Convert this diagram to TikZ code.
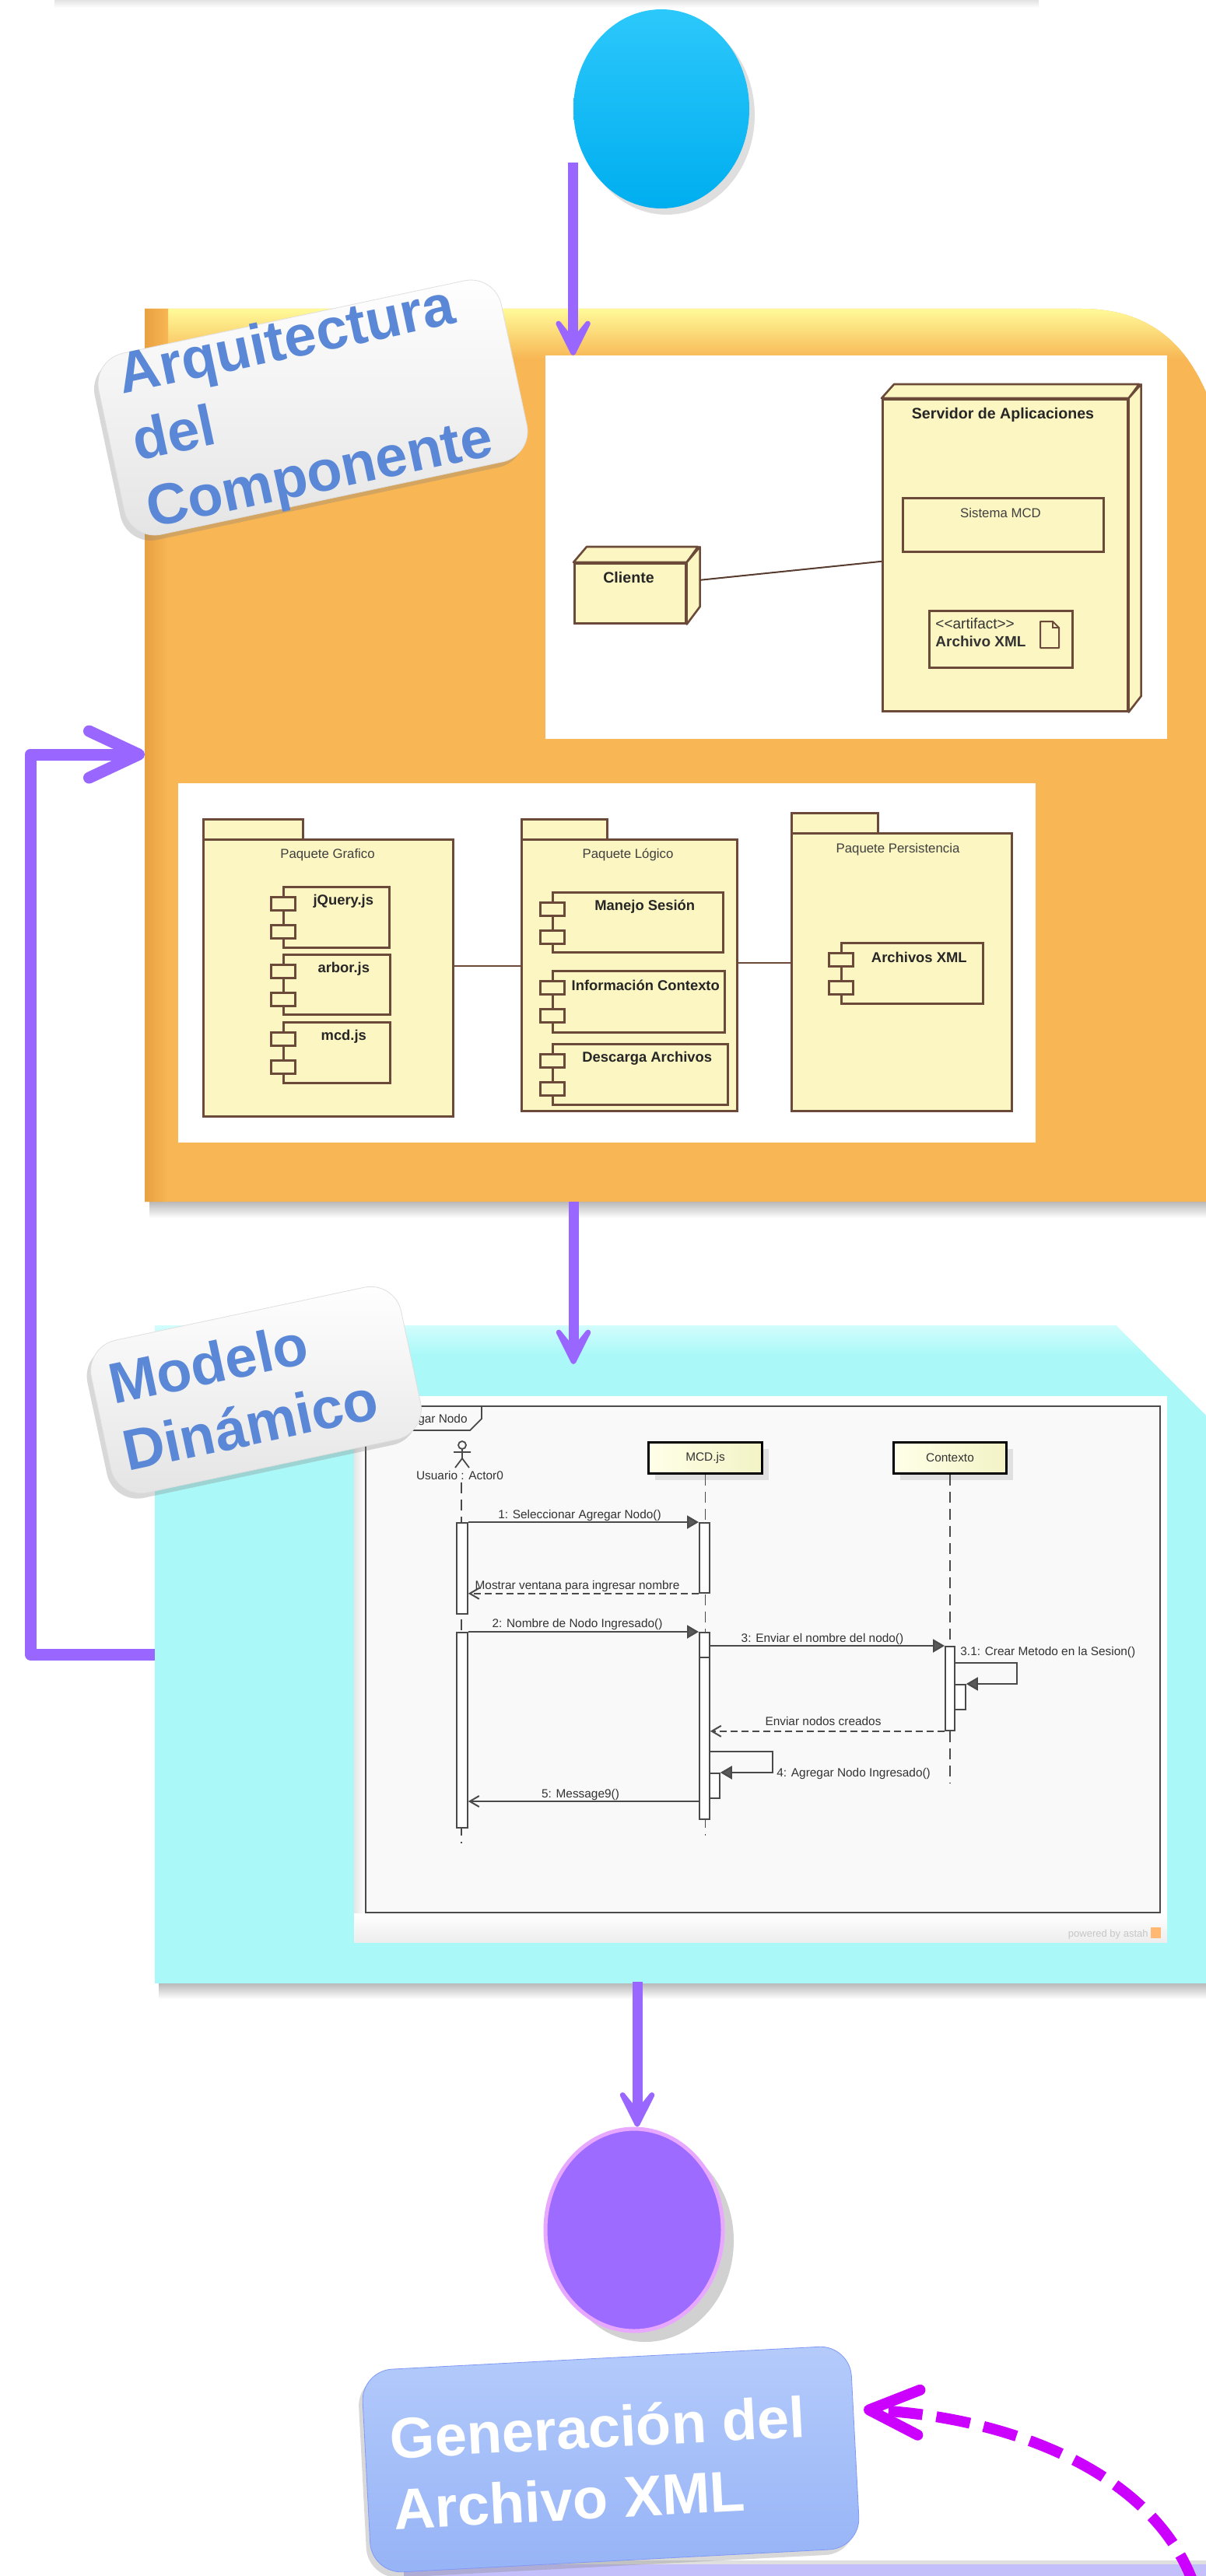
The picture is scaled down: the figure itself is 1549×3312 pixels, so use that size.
\documentclass[tikz,border=0pt]{standalone}
\usepackage{fontspec}
\setmainfont{Liberation Sans}
\usetikzlibrary{arrows.meta,shapes.geometric,shadows,calc}

\definecolor{arrowpurple}{HTML}{9966FF}
\definecolor{bluetop}{HTML}{2CC8FB}
\definecolor{bluebot}{HTML}{00AEEF}
\definecolor{orangeC}{HTML}{F8B654}
\definecolor{orangeTop}{HTML}{FFFA99}
\definecolor{orangeDark}{HTML}{E9A040}
\definecolor{cyanC}{HTML}{AAF8F8}
\definecolor{cyanTop}{HTML}{D2FDFD}
\definecolor{umlfill}{HTML}{FCF6C2}
\definecolor{umlline}{HTML}{6B4A3A}
\definecolor{labelblue}{HTML}{5B87D7}
\definecolor{cardgray}{HTML}{E4E4E4}
\definecolor{purpleC}{HTML}{9D6BFF}
\definecolor{purpleRim}{HTML}{E9A8FF}
\definecolor{genTop}{HTML}{B4CBFB}
\definecolor{genBot}{HTML}{96B3F6}
\definecolor{magentaC}{HTML}{CC00FF}
\definecolor{lavender}{HTML}{C3BFFA}
\definecolor{seqline}{HTML}{4A4A4A}
\definecolor{seqtext}{HTML}{333333}
\definecolor{seqbg}{HTML}{F9F9F9}
\definecolor{lifeTop}{HTML}{FFFFE8}
\definecolor{lifeBot}{HTML}{F3F3C6}

\tikzset{
  parrow/.style={draw=arrowpurple, line width=6.5pt, -{Stealth[length=36pt,width=36pt,inset=22.5pt,round]}},
  barbarrow/.style={draw=arrowpurple, line width=7.5pt, line join=round, -{Straight Barb[length=32pt,width=30pt,round]}},
  dasharrow/.style={draw=magentaC, line width=7pt, dash pattern=on 22pt off 9pt, -{Straight Barb[length=32pt,width=29pt,round]}},
  card/.style={rectangle, rounded corners=20pt, inner sep=0, top color=white, bottom color=cardgray, draw=gray!25, line width=0.4pt, drop shadow={shadow xshift=-2.5pt, shadow yshift=-3.5pt, opacity=0.3}},
  cardtext/.style={inner sep=0, anchor=base west, align=left, text=labelblue, font=\fontsize{37pt}{44pt}\selectfont\bfseries},
  imgbox/.style={rectangle, fill=white, inner sep=0, anchor=north west},
  umlbox/.style={rectangle, draw=umlline, fill=umlfill, line width=1.3pt, inner sep=0, anchor=north west},
  umlface/.style={draw=umlline, fill=umlfill, line width=1.3pt, line join=round},
  portbox/.style={umlbox, minimum width=15.5pt, minimum height=8.5pt},
  umlbold/.style={inner sep=0, text=black!85, font=\fontsize{9.8pt}{11pt}\selectfont\bfseries},
  complabel/.style={inner sep=0, text=black!85, font=\fontsize{9.2pt}{11pt}\selectfont\bfseries},
  umlreg/.style={inner sep=0, text=black!75, font=\fontsize{8.4pt}{10pt}\selectfont},
  seqlabel/.style={inner sep=0, text=seqtext, font=\fontsize{7.7pt}{9pt}\selectfont},
  lifeline/.style={draw=seqline, line width=0.9pt, dash pattern=on 7pt off 4pt},
  actbar/.style={rectangle, draw=seqline, fill=white, line width=0.9pt, inner sep=0, anchor=north west},
  callarrow/.style={draw=seqline, line width=1pt, -{Triangle[length=7.5pt,width=8.5pt,fill=gray!70!black]}},
  retarrow/.style={draw=seqline, line width=1pt, dash pattern=on 4.5pt off 2.5pt, -{Straight Barb[length=6pt,width=7pt]}},
  openarrow/.style={draw=seqline, line width=1pt, -{Straight Barb[length=6pt,width=7pt]}},
  lifebox/.style={rectangle, draw=black, line width=1.5pt, left color=lifeTop, right color=lifeBot, inner sep=0, minimum height=20pt, anchor=north west, text=seqtext, font=\fontsize{7.7pt}{9pt}\selectfont, drop shadow={shadow xshift=4pt, shadow yshift=-4pt, opacity=0.2}},
}

\newcommand{\ucomp}[6]{%
  \node[umlbox, minimum width=#4, minimum height=#5] (#1) at (#2,#3) {};
  \node[portbox] (#1p1) at ($(#1.north west)+(-16,13)$) {};
  \node[portbox] (#1p2) at ($(#1.north west)+(-16,49)$) {};
  \node[complabel] (#1t) at ($(#1.north)+(9,20)$) {#6};
}

\def\orangepath{(186,397) -- (1390,397) .. controls (1475,397) and (1530,440) .. (1560,530) -- (1560,1545) -- (186,1545) -- cycle}
\def\cyanpath{(199,1704) -- (1434,1704) -- (1560,1830) -- (1560,2550) -- (199,2550) -- cycle}

\begin{document}
\begin{tikzpicture}[x=0.5pt,y=-0.5pt]
\useasboundingbox (0,0) rectangle (1549,3312);
\fill[white] (0,0) rectangle (1549,3312);
\shade[top color=gray!22, bottom color=white] (70,0) rectangle (1335,10);

% blue start circle
\fill[black, opacity=0.13] (857,148) ellipse [x radius=56.5pt, y radius=64pt];
\node[ellipse, top color=bluetop, bottom color=bluebot, minimum width=113pt, minimum height=128pt, inner sep=0] (bluec) at (850,140) {};

% orange box
\shade[top color=gray!55, bottom color=white] (192,1545) rectangle (1560,1566);
\fill[orangeC] \orangepath;
\begin{scope}
  \clip \orangepath;
  \shade[top color=orangeTop, bottom color=orangeC] (186,397) rectangle (1560,462);
  \shade[left color=orangeDark, right color=orangeC] (186,397) rectangle (216,1545);
\end{scope}

% deployment diagram
\node[imgbox, minimum width=399.5pt, minimum height=246.5pt] (dep) at (701,457) {};
\node[umlbox, minimum width=157.5pt, minimum height=200.5pt] (srv) at (1133,512) {};
\draw[umlface] (srv.north west) -- ++(16,-18) -- ++(315,0) -- (srv.north east) -- cycle;
\draw[umlface] (srv.north east) -- ++(16,-18) -- ++(0,401) -- (srv.south east) -- cycle;
\node[umlbold] (srvt) at (1289,533) {Servidor de Aplicaciones};
\node[umlbox, minimum width=129pt, minimum height=34.5pt] (sis) at (1159,639) {};
\node[umlreg] (sist) at (1286,659) {Sistema MCD};
\node[umlbox, minimum width=92pt, minimum height=36.5pt] (art) at (1193,784) {};
\node[inner sep=0, anchor=north west, align=left, text=black!80, font=\fontsize{9.5pt}{11.5pt}\selectfont] (artt) at (1202,794) {<{}<artifact>{}>\\\textbf{Archivo XML}};
\draw[draw=umlline, fill=umlfill, line width=1pt, line join=round] (1337,799) -- (1353,799) -- (1361,807) -- (1361,833) -- (1337,833) -- cycle;
\draw[draw=umlline, line width=1pt] (1353,799) -- (1353,807) -- (1361,807);
\node[umlbox, minimum width=71.5pt, minimum height=38.5pt] (cli) at (737,723) {};
\draw[umlface] (cli.north west) -- ++(17,-20) -- ++(143,0) -- (cli.north east) -- cycle;
\draw[umlface] (cli.north east) -- ++(17,-20) -- ++(0,77) -- (cli.south east) -- cycle;
\node[umlbold] (clit) at (808,742) {Cliente};
\draw[draw=umlline!80!black, line width=1pt] ($(cli.east)+(17,-17)$) -- ($(srv.west)+(0,8)$);

% package diagram
\node[imgbox, minimum width=551pt, minimum height=231pt] (pkg) at (229,1007) {};
\node[umlbox, minimum width=64pt, minimum height=13pt] (pgtab) at (260,1052) {};
\node[umlbox, minimum width=160.5pt, minimum height=178pt] (pg) at (260,1078) {};
\node[umlreg] (pgt) at (421,1099) {Paquete Grafico};
\ucomp{cjq}{363}{1139}{68pt}{39pt}{jQuery.js}
\ucomp{carb}{363}{1226}{68.5pt}{38.5pt}{arbor.js}
\ucomp{cmcd}{363}{1313}{68.5pt}{39pt}{mcd.js}
\node[umlbox, minimum width=55pt, minimum height=13pt] (pltab) at (669,1052) {};
\node[umlbox, minimum width=138.5pt, minimum height=174.5pt] (pl) at (669,1078) {};
\node[umlreg] (plt) at (807,1099) {Paquete Lógico};
\ucomp{cman}{709}{1146}{109.5pt}{38.5pt}{Manejo Sesión}
\ucomp{cinf}{709}{1247}{110.5pt}{39.5pt}{Información Contexto}
\ucomp{cdes}{709}{1341}{112.5pt}{39pt}{Descarga Archivos}
\node[umlbox, minimum width=55.5pt, minimum height=13pt] (pptab) at (1016,1044) {};
\node[umlbox, minimum width=141.5pt, minimum height=178.5pt] (pp) at (1016,1070) {};
\node[umlreg] (ppt) at (1154,1092) {Paquete Persistencia};
\ucomp{carc}{1080}{1211}{91pt}{39pt}{Archivos XML}
\coordinate (l1a) at (581,1242);
\draw[draw=umlline, line width=1pt] (l1a) -- (l1a -| pl.west);
\coordinate (l2a) at (946,1238);
\draw[draw=umlline, line width=1pt] (l2a) -- (l2a -| pp.west);

% cyan box
\shade[top color=gray!55, bottom color=white] (204,2550) rectangle (1560,2570);
\fill[cyanC] \cyanpath;
\begin{scope}
  \clip \cyanpath;
  \shade[top color=cyanTop, bottom color=cyanC] (199,1704) rectangle (1560,1742);
\end{scope}

% sequence diagram
\node[imgbox, minimum width=522.5pt, minimum height=351pt] (seqimg) at (455,1795) {};
\shade[left color=gray!20, right color=white] (455,1795) rectangle (469,2497);
\shade[top color=white, bottom color=gray!14] (455,2460) rectangle (1500,2497);
\node[rectangle, draw=seqline, line width=1pt, fill=seqbg, inner sep=0, anchor=north west, minimum width=510.5pt, minimum height=325.5pt] (frame) at (469,1807) {};
\draw[seqline, line width=0.9pt] (469,1839) -- (604,1839) -- (619,1824) -- (619,1807);
\node[seqlabel, anchor=base east] (tabt) at (601,1829) {gar Nodo};
\node[inner sep=0, anchor=base east, text=gray!45, font=\fontsize{6.5pt}{8pt}\selectfont] (astah) at (1476,2490) {powered by astah};
\node[rectangle, fill=orange!55, inner sep=0, minimum width=6.5pt, minimum height=7pt, anchor=north west] (astahicon) at (1479,2478) {};

% actor
\draw[seqline, line width=0.9pt] (594,1858) circle [radius=2.5pt];
\draw[seqline, line width=0.9pt] (594,1863) -- (594,1875) (583,1867) -- (605,1867) (585,1887) -- (594,1875) -- (603,1887);
\node[seqlabel] (actt) at (591,1897) {Usuario : Actor0};
\coordinate (actor) at (593,1906);
\node[lifebox, minimum width=73pt] (mcd) at (832,1853) {MCD.js};
\node[lifebox, minimum width=72.5pt] (ctx) at (1147,1853) {Contexto};
\draw[lifeline] (actor) -- ++(0,464);
\draw[lifeline] (mcd.south) -- ++(0,464);
\draw[lifeline] (ctx.south) -- ++(0,397);

\node[actbar, minimum width=7pt, minimum height=58.5pt] (actA1) at (586,1957) {};
\node[actbar, minimum width=7pt, minimum height=125.5pt] (actA2) at (586,2098) {};
\node[actbar, minimum width=6.5pt, minimum height=45pt] (mcdA1) at (898,1957) {};
\node[actbar, minimum width=6.5pt, minimum height=120pt] (mcdA2) at (898,2098) {};
\draw[seqline, line width=0.9pt] (898,2131) -- (911,2131);
\node[actbar, minimum width=6.5pt, minimum height=16pt] (mcdA3) at (911,2279) {};
\node[actbar, minimum width=6pt, minimum height=54pt] (ctxA1) at (1214,2116) {};
\node[actbar, minimum width=7pt, minimum height=16pt] (ctxA2) at (1226,2165) {};

\draw[callarrow] (actA1.north east) -- (mcdA1.north west);
\node[seqlabel, anchor=base] (m1t) at (745,1952) {1: Seleccionar Agregar Nodo()};
\draw[retarrow] (mcdA1.south west) -- (mcdA1.south west -| actA1.east);
\node[seqlabel, anchor=base] (m2t) at (742,2043) {Mostrar ventana para ingresar nombre};
\draw[callarrow] (actA2.north east) -- (mcdA2.north west);
\node[seqlabel, anchor=base] (m3t) at (742,2092) {2: Nombre de Nodo Ingresado()};
\draw[callarrow] (ctxA1.north west -| mcdA2.east) -- (ctxA1.north west);
\node[seqlabel, anchor=base] (m4t) at (1057,2111) {3: Enviar el nombre del nodo()};
\coordinate (s1) at (1220,2138);
\draw[callarrow] (s1 -| ctxA1.east) -- ++(79,0) -- ++(0,27) -- (ctxA2.north east);
\node[seqlabel, anchor=base west] (m5t) at (1234,2128) {3.1: Crear Metodo en la Sesion()};
\draw[retarrow] (ctxA1.south west) -- (ctxA1.south west -| mcdA2.east);
\node[seqlabel, anchor=base] (m6t) at (1058,2218) {Enviar nodos creados};
\coordinate (s2) at (905,2252);
\draw[callarrow] (s2 -| mcdA2.east) -- ++(80,0) -- ++(0,27) -- (mcdA3.north east);
\node[seqlabel, anchor=base west] (m7t) at (998,2284) {4: Agregar Nodo Ingresado()};
\coordinate (s3) at (905,2316);
\draw[openarrow] (s3 -| mcdA2.west) -- (s3 -| actA2.east);
\node[seqlabel, anchor=base] (m8t) at (746,2311) {5: Message9()};

% labels (cards)
\node[card, rotate=12, minimum width=264.5pt, minimum height=119pt] (arq) at (402,524) {};
\node[cardtext, rotate=12] (arqt) at (194,679) {Arquitectura\\del\\Componente};

\node[card, rotate=12, minimum width=203.5pt, minimum height=100pt] (mod) at (329,1787) {};
\node[cardtext, rotate=12] (modt) at (164,1892) {Modelo\\Dinámico};

% purple end ellipse
\fill[black, opacity=0.18] (829,2881) ellipse [x radius=57pt, y radius=65pt];
\node[ellipse, fill=purpleC, draw=purpleRim, line width=2.5pt, minimum width=114pt, minimum height=130pt, inner sep=0] (pell) at (815,2867) {};

% bottom strip
\fill[gray!25] (519,3292) rectangle (1560,3297);
\fill[lavender] (519,3297) rectangle (1560,3330);

% Generacion card
\node[card, rotate=3, top color=genTop, bottom color=genBot, draw=genBot!85!blue, minimum width=314.5pt, minimum height=130.5pt] (gen) at (785,3162) {};
\node[cardtext, rotate=3, text=white, font=\fontsize{37pt}{45.5pt}\selectfont\bfseries] (gent) at (507,3252) {Generación del\\Archivo XML};

% arrows
\coordinate (a1s) at ($(bluec.west)+(0,69)$);
\draw[parrow] (a1s) -- (a1s |- dep.north);
\coordinate (orbot) at (737,1545);
\coordinate (cytip) at (737,1754);
\draw[parrow] (orbot) -- (cytip);
\coordinate (cybot) at (819,2548);
\draw[parrow] (cybot) -- (cybot |- pell.north);
\coordinate (cyleft) at (199,2127);
\coordinate (lb) at (39,2127);
\coordinate (lt) at (39,970);
\coordinate (orleft) at (186,970);
\draw[barbarrow] (cyleft) -- (lb) -- (lt) -- (orleft);
\coordinate (magstart) at (1535,3325);
\coordinate (gentip) at (1110,3098);
\draw[dasharrow] (magstart) .. controls (1485,3180) and (1300,3108) .. (gentip);
\end{tikzpicture}
\end{document}
